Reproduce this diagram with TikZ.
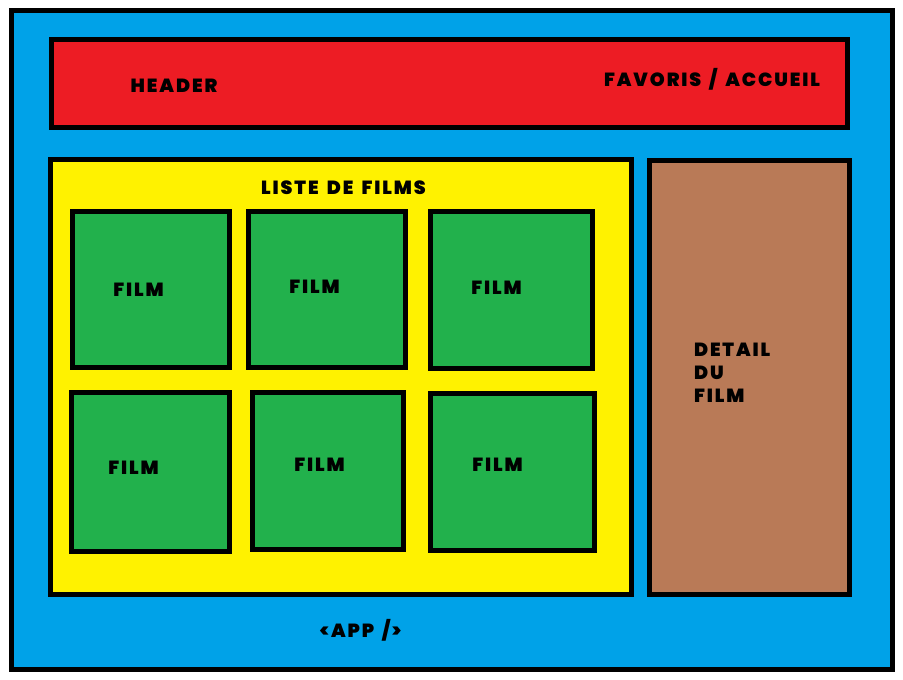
\documentclass[tikz,border=0pt]{standalone}
\usepackage{fontspec}
\setmainfont{Poppins}[BoldFont={Poppins Black}, BoldFeatures={LetterSpace=10, WordSpace=1.6}]
\definecolor{appblue}{RGB}{0,162,232}
\definecolor{hdrred}{RGB}{237,28,36}
\definecolor{listyellow}{RGB}{255,242,0}
\definecolor{filmgreen}{RGB}{34,177,76}
\definecolor{detailbrown}{RGB}{185,122,87}
\tikzset{
  box/.style={draw=black, line width=5pt, rectangle, inner sep=0pt, outer sep=0pt},
  lbl/.style={inner sep=0pt, outer sep=0pt, font=\fontsize{19}{23}\selectfont\bfseries, text=black}
}
\begin{document}
\begin{tikzpicture}[x=1pt,y=-1pt]
\useasboundingbox (0,0) rectangle (903,680);
\node[box, fill=appblue, minimum width=881pt, minimum height=659pt] (app) at (452,340) {};
\node[box, fill=hdrred, minimum width=796pt, minimum height=88pt] (header) at (449.5,83.5) {};
\node[box, fill=listyellow, minimum width=581pt, minimum height=435pt] (liste) at (341,377) {};
\node[box, fill=detailbrown, minimum width=200pt, minimum height=434pt] (detail) at (749.5,377.5) {};
\node[box, fill=filmgreen, minimum width=157pt, minimum height=156pt] (f1) at (151,289.5) {};
\node[box, fill=filmgreen, minimum width=157pt, minimum height=156pt] (f2) at (327,289.5) {};
\node[box, fill=filmgreen, minimum width=162pt, minimum height=157pt] (f3) at (511.5,290) {};
\node[box, fill=filmgreen, minimum width=158pt, minimum height=159pt] (f4) at (150.5,472) {};
\node[box, fill=filmgreen, minimum width=151pt, minimum height=157pt] (f5) at (328,471) {};
\node[box, fill=filmgreen, minimum width=164pt, minimum height=157pt] (f6) at (512.5,472) {};
\node[lbl, anchor=base] (theader) at (174,92) {HEADER};
\node[lbl, anchor=base] (tfav) at (712,86) {FAVORIS / ACCUEIL};
\node[lbl, anchor=base] (tliste) at (343.5,194) {LISTE DE FILMS};
\node[lbl, anchor=base] (tf1) at (138.5,296) {FILM};
\node[lbl, anchor=base] (tf2) at (314.5,293) {FILM};
\node[lbl, anchor=base] (tf3) at (496.5,294) {FILM};
\node[lbl, anchor=base] (tf4) at (133.5,474) {FILM};
\node[lbl, anchor=base] (tf5) at (319.5,471) {FILM};
\node[lbl, anchor=base] (tf6) at (497.5,471) {FILM};
\node[lbl, anchor=base west, align=left] (tdetail) at (694,402) {DETAIL\\DU\\FILM};
\node[lbl, anchor=base] (tapp) at (360.5,637) {<APP />};
\end{tikzpicture}
\end{document}
